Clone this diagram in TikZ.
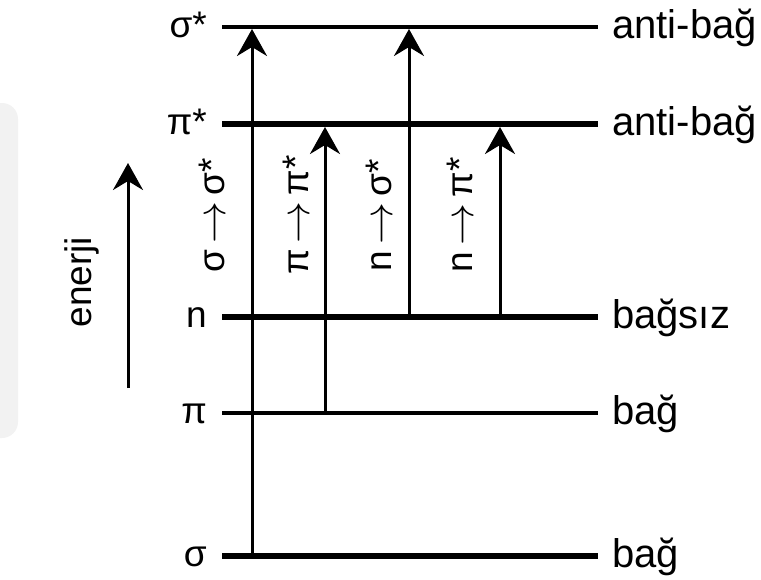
\documentclass[tikz,border=0pt]{standalone}
\usepackage{fontspec}
\setmainfont{Liberation Sans}
\usepackage{graphicx}
\usetikzlibrary{arrows.meta}
\newcommand{\trarrow}{\raisebox{-1pt}{\scalebox{4.2}{\fontsize{10}{12}\selectfont$\rightarrow$}}}
\begin{document}
\begin{tikzpicture}[x=1pt,y=-1pt,
  lvlthin/.style={line width=4pt},
  lvlthick/.style={line width=6pt},
  trans/.style={line width=3pt,-{Stealth[length=27pt,width=30pt,inset=9pt]}},
  txt/.style={font=\fontsize{37}{40}\selectfont,inner sep=0pt},
  lname/.style={txt,anchor=base east},
  rname/.style={txt,font=\fontsize{40}{44}\selectfont,anchor=base west},
  tlabel/.style={txt,rotate=90}]
\useasboundingbox (0,0) rectangle (761,579);
% faint panel at left
\fill[black!5, rounded corners=16pt] (-40,103) rectangle (18,438);
% level coordinates
\coordinate (ssL) at (222,27);  \coordinate (ssR) at (598,27);
\coordinate (psL) at (222,124); \coordinate (psR) at (598,124);
\coordinate (nL)  at (222,317); \coordinate (nR)  at (598,317);
\coordinate (pL)  at (222,413); \coordinate (pR)  at (598,413);
\coordinate (sL)  at (222,556); \coordinate (sR)  at (598,556);
% levels
\draw[lvlthin]  (ssL) -- (ssR);
\draw[lvlthick] (psL) -- (psR);
\draw[lvlthick] (nL)  -- (nR);
\draw[lvlthin]  (pL)  -- (pR);
\draw[lvlthick] (sL)  -- (sR);
% left labels
\node[lname] (lss) at (207,37)  {σ*};
\node[lname] (lps) at (207,134) {π*};
\node[lname] (ln)  at (207,327) {n};
\node[lname] (lp)  at (207,423) {π};
\node[lname] (ls)  at (207,566) {σ};
% right labels
\node[rname] (rss) at (612,38)  {anti-bağ};
\node[rname] (rps) at (612,135) {anti-bağ};
\node[rname] (rn)  at (612,328) {bağsız};
\node[rname] (rp)  at (612,424) {bağ};
\node[rname] (rs)  at (612,567) {bağ};
% transition endpoints
\coordinate (t1a) at (252,556); \coordinate (t1b) at (252,29);
\coordinate (t2a) at (325,413); \coordinate (t2b) at (325,127);
\coordinate (t3a) at (409,317); \coordinate (t3b) at (409,29);
\coordinate (t4a) at (500,317); \coordinate (t4b) at (500,127);
\draw[trans] (t1a) -- (t1b);
\draw[trans] (t2a) -- (t2b);
\draw[trans] (t3a) -- (t3b);
\draw[trans] (t4a) -- (t4b);
% transition labels
\node[tlabel] (l1) at (212,215) {σ\,\trarrow\,σ*};
\node[tlabel] (l2) at (296,215) {π\,\trarrow\,π*};
\node[tlabel] (l3) at (379,215) {n\,\trarrow\,σ*};
\node[tlabel] (l4) at (460,215) {n\,\trarrow\,π*};
% energy axis
\coordinate (ea) at (128,388); \coordinate (eb) at (128,163);
\draw[trans] (ea) -- (eb);
\node[tlabel] (en) at (82,282) {enerji};
\end{tikzpicture}
\end{document}
